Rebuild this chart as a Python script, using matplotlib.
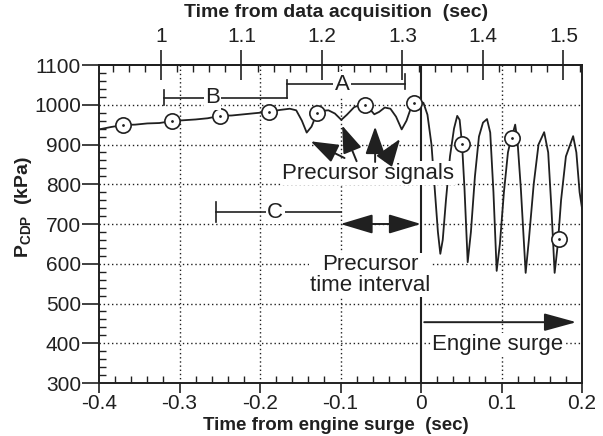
import numpy as np
import matplotlib
matplotlib.use('Agg')
from matplotlib import pyplot as plt
from matplotlib.ticker import MultipleLocator, FixedLocator, FixedFormatter

plt.rcParams['font.family'] = 'Liberation Sans'
plt.rcParams['mathtext.fontset'] = 'custom'
plt.rcParams['mathtext.rm'] = 'Liberation Sans'
plt.rcParams['mathtext.bf'] = 'Liberation Sans:bold'

ink = '#202020'

# compressor discharge pressure trace (time from surge [s], kPa)
t_trace = [-0.400, -0.385, -0.370, -0.355, -0.340, -0.325, -0.309, -0.295, -0.280,
           -0.265, -0.250, -0.235, -0.220, -0.205, -0.189, -0.175, -0.163, -0.155,
           -0.148, -0.142, -0.136, -0.129, -0.122, -0.115, -0.107, -0.099, -0.092,
           -0.083, -0.075, -0.070, -0.064, -0.058, -0.052, -0.045, -0.038, -0.031,
           -0.024, -0.018, -0.012, -0.009, -0.002, 0.003, 0.008, 0.013, 0.017,
           0.021, 0.024, 0.027, 0.031, 0.036, 0.041, 0.045, 0.048, 0.051, 0.054,
           0.058, 0.062, 0.067, 0.072, 0.077, 0.082, 0.086, 0.090, 0.094, 0.098,
           0.103, 0.108, 0.112, 0.115, 0.117, 0.120, 0.124, 0.130, 0.134, 0.140,
           0.146, 0.153, 0.158, 0.162, 0.166, 0.170, 0.174, 0.180, 0.189, 0.193,
           0.197, 0.200]
p_trace = [938, 944, 949, 950, 953, 954, 959, 961, 963,
           966, 972, 973, 976, 979, 982, 987, 990, 986,
           960, 930, 945, 980, 985, 986, 978, 962, 975,
           994, 1000, 999, 990, 976, 982, 993, 990, 970,
           938, 960, 995, 1004, 1008, 1005, 975, 900, 790,
           680, 625, 660, 760, 870, 940, 972, 962, 901, 790,
           604, 680, 820, 920, 955, 964, 930, 780, 582, 650,
           780, 880, 916, 935, 950, 905, 790, 577, 660, 800,
           900, 931, 880, 740, 577, 650, 760, 870, 921, 880,
           780, 740]

# sampled points marked with circles
t_mark = [-0.370, -0.309, -0.250, -0.189, -0.129, -0.070, -0.009, 0.051, 0.113, 0.171]
p_mark = [949, 959, 972, 982, 980, 999, 1004, 901, 916, 662]

bottom_ticks = [-0.4, -0.3, -0.2, -0.1, 0.0, 0.1, 0.2]
bottom_labels = ['-0.4', '-0.3', '-0.2', '-0.1', '0', '0.1', '0.2']
top_ticks = [1.0, 1.1, 1.2, 1.3, 1.4, 1.5]
top_labels = ['1', '1.1', '1.2', '1.3', '1.4', '1.5']
acq_offset = 1.323

fig = plt.figure(figsize=(6.03, 4.36), dpi=100)
ax = fig.add_axes([99 / 603, 1 - 383 / 436, 483 / 603, 318 / 436])
ax.set_xlim(-0.4, 0.2)
ax.set_ylim(300, 1100)

# dotted grid
for y in range(400, 1100, 100):
    ax.axhline(y, color=ink, lw=1.0, ls=(0, (1, 2)), zorder=1)
for x in [-0.3, -0.2, -0.1, 0.1]:
    ax.axvline(x, color=ink, lw=1.0, ls=(0, (1, 2)), zorder=1)
ax.axvline(0, color=ink, lw=1.5, zorder=2)

ax.plot(t_trace, p_trace, color=ink, lw=1.3, zorder=3)
ax.plot(t_mark, p_mark, 'o', ms=11, mfc='white', mec=ink, mew=1.2, zorder=4)
ax.plot(t_mark, p_mark, '.', ms=2, color=ink, zorder=4)

# axes and ticks
for s in ax.spines.values():
    s.set_color(ink)
    s.set_linewidth(1.4)
ax.xaxis.set_major_locator(FixedLocator(bottom_ticks))
ax.xaxis.set_major_formatter(FixedFormatter(bottom_labels))
ax.xaxis.set_minor_locator(MultipleLocator(0.02))
ax.yaxis.set_major_locator(MultipleLocator(100))
ax.yaxis.set_minor_locator(MultipleLocator(20))
ax.tick_params(axis='x', which='major', direction='out', length=7, width=1.2,
               pad=1, labelsize=15, colors=ink)
ax.tick_params(axis='x', which='minor', direction='in', length=5, width=1.0, colors=ink)
ax.tick_params(axis='y', which='major', direction='out', length=12, width=1.2,
               pad=1, labelsize=15, colors=ink)
ax.tick_params(axis='y', which='minor', direction='in', length=5, width=1.0, colors=ink)

top = ax.secondary_xaxis('top', functions=(lambda x: x + acq_offset,
                                           lambda x: x - acq_offset))
top.xaxis.set_major_locator(FixedLocator(top_ticks))
top.xaxis.set_major_formatter(FixedFormatter(top_labels))
top.xaxis.set_minor_locator(MultipleLocator(0.02))
top.tick_params(which='major', direction='inout', length=22, width=1.2, pad=3,
                labelsize=15, colors=ink)
top.tick_params(which='minor', direction='in', length=5, width=1.0, colors=ink)
top.spines['top'].set_linewidth(1.4)

ax.text(0.49, -0.134, 'Time from engine surge  (sec)', transform=ax.transAxes,
        ha='center', va='center', fontsize=13.5, fontweight='bold', color=ink)
ax.text(0.49, 1.166, 'Time from data acquisition  (sec)', transform=ax.transAxes,
        ha='center', va='center', fontsize=14, fontweight='bold', color=ink)
fig.text(23 / 603, 1 - 207 / 436, r'$\mathbf{P}_{\mathbf{CDP}}$  (kPa)', rotation=90,
         ha='center', va='center', fontsize=14, fontweight='bold', color=ink)

white = dict(facecolor='white', edgecolor='none', pad=1)

# interval brackets A, B, C
def bracket(x0, x1, y, label, xl, tick0, tick1=None):
    ax.plot([x0, x1], [y, y], color=ink, lw=1.2, zorder=5)
    ax.plot([x0, x0], tick0, color=ink, lw=1.2, zorder=5)
    if tick1 is not None:
        ax.plot([x1, x1], tick1, color=ink, lw=1.2, zorder=5)
    ax.text(xl, y, label, ha='center', va='center', fontsize=16, color=ink,
            bbox=white, zorder=6)

bracket(-0.166, -0.020, 1052, 'A', -0.098, [1017, 1062], [1040, 1077])
bracket(-0.319, -0.166, 1017, 'B', -0.259, [1000, 1037])
bracket(-0.255, -0.100, 730, 'C', -0.181, [705, 755])

ax.text(-0.066, 828, 'Precursor signals', ha='center', va='center', fontsize=16,
        color=ink, bbox=white, zorder=5)
ax.text(-0.063, 572, 'Precursor\ntime interval', ha='center', va='center',
        fontsize=16, color=ink, linespacing=1.0, bbox=white, zorder=5)
ax.text(0.095, 396, 'Engine surge', ha='center', va='center', fontsize=16,
        color=ink, bbox=white, zorder=5)

# arrows pointing at the precursor dips
arrow_small = dict(arrowstyle='-|>,head_length=1.7,head_width=0.6', color=ink,
                   lw=1.4, shrinkA=0, shrinkB=0, mutation_scale=10)
for tail, head in [((-0.095, 866), (-0.137, 908)),
                   ((-0.080, 858), (-0.098, 948)),
                   ((-0.057, 856), (-0.057, 945)),
                   ((-0.045, 860), (-0.026, 914))]:
    ax.annotate('', xy=head, xytext=tail, arrowprops=arrow_small, zorder=7)

big = dict(arrowstyle='<|-|>,head_length=2.0,head_width=0.6', color=ink, lw=1.4,
           shrinkA=0, shrinkB=0, mutation_scale=10)
ax.annotate('', xy=(0.0, 700), xytext=(-0.1, 700), arrowprops=big, zorder=7)
surge = dict(arrowstyle='-|>,head_length=2.0,head_width=0.55', color=ink, lw=1.4,
             shrinkA=0, shrinkB=0, mutation_scale=10)
ax.annotate('', xy=(0.193, 453), xytext=(0.004, 453), arrowprops=surge, zorder=7)

fig.savefig('out.png', dpi=100)
